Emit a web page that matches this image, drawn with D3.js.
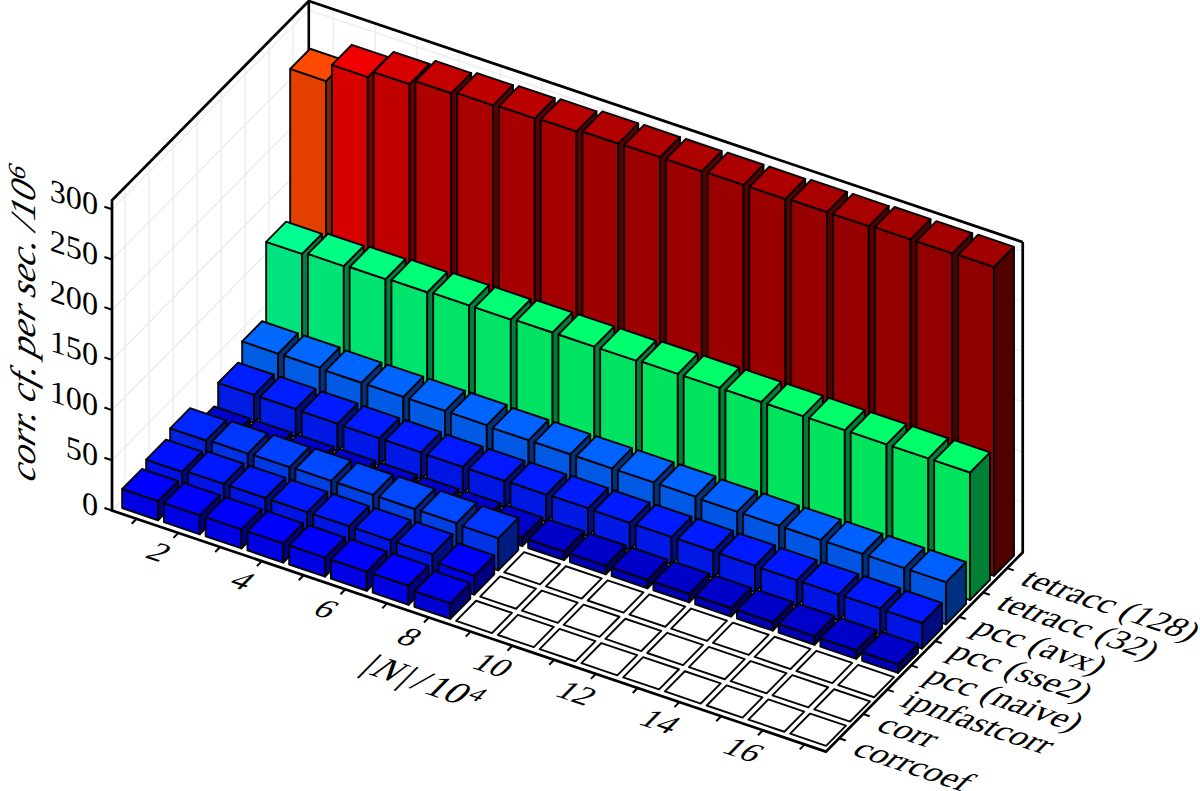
<!DOCTYPE html>
<html>
<head>
<meta charset="utf-8">
<script src="https://cdn.jsdelivr.net/npm/d3@7"></script>
<style>
  html, body { margin: 0; background: #fff; }
  svg { display: block; }
  text { font-family: "Liberation Serif", serif; fill: #000; }
</style>
</head>
<body>
<svg id="chart" width="1200" height="791"></svg>
<script>
const sizes = d3.range(1, 18);
const methods = ["corrcoef", "corr", "ipnfastcorr", "pcc (naive)", "pcc (sse2)", "pcc (avx)", "tetracc (32)", "tetracc (128)"];
const zTicks = [0, 50, 100, 150, 200, 250, 300];
const sizeLabels = [2, 4, 6, 8, 10, 12, 14, 16];

const corrcoefValues = [19, 19, 19, 19, 19, 19, 19, 15.5, null, null, null, null, null, null, null, null, null];
const corrValues = [24, 26, 26, 26, 26, 26, 26, 19, null, null, null, null, null, null, null, null, null];
const ipnfastcorrValues = [31, 32, 32.5, 33, 33, 33, 33, 32, null, null, null, null, null, null, null, null, null];
const pccNaiveValues = [8.5, 8.5, 8.5, 8.5, 8.5, 8.5, 8.5, 8.5, 8.5, 8.5, 8.5, 8.5, 8.5, 8.5, 8.5, 8.5, 8.5];
const pccSse2Values = [28, 28, 27.5, 27, 27, 26.5, 26.5, 27, 27.5, 27, 27, 27, 26.5, 26, 26, 26, 25.5];
const pccAvxValues = [45, 45, 44, 44, 44, 44, 43, 43, 43, 43, 43, 42, 42, 42, 42, 42, 42];
const tetracc32Values = [120, 122, 123, 124, 125, 125, 126, 126, 126, 127, 127, 127, 127, 127, 127, 127, 127];
const tetracc128Values = [268, 286, 293, 298, 300, 301, 302, 304, 304.5, 304.5, 305, 305, 306, 306, 307, 307, 307.5];
const allValues = [corrcoefValues, corrValues, ipnfastcorrValues, pccNaiveValues, pccSse2Values, pccAvxValues, tetracc32Values, tetracc128Values];

const svg = d3.select("#chart");

// the plot is an oblique projection: three scales give the pixel offset along each box edge
const uStepX = 41.75, uStepY = 14.1, vStepX = 24, vStepY = 24.3;
const uMax = 17.1, vMax = 8.2, zMax = 309;
const uX = d3.scaleLinear().domain([0, uMax]).range([0, uMax * uStepX]);
const uY = d3.scaleLinear().domain([0, uMax]).range([0, uMax * uStepY]);
const vX = d3.scaleLinear().domain([0, vMax]).range([0, vMax * vStepX]);
const vY = d3.scaleLinear().domain([0, vMax]).range([0, -vMax * vStepY]);
const zY = d3.scaleLinear().domain([0, zMax]).range([0, -zMax * 1.004]);
const originX = 112, originY = 510.5;

const project = (u, v, z) => [originX + uX(u) + vX(v), originY + uY(u) + vY(v) + zY(z)];
const poly = d3.line();
const closed = pts => poly(pts) + "Z";

// colour follows bar height, blue through green to dark red
const colorScale = d3.scaleLinear()
  .domain([0, 8.5, 19, 26, 31, 33, 45, 120, 127, 268, 286, 293, 298, 301, 305, 307.5])
  .range(["#00007a", "#0000c8", "#0000ff", "#0018ff", "#0026ff", "#0048ff", "#0068ff", "#00ff90", "#00ff68", "#ff4800", "#f00000", "#d80000", "#c40000", "#bb0000", "#ad0000", "#a20000"])
  .clamp(true);
const shade = (c, k) => { const r = d3.rgb(c); return d3.rgb(r.r * k, r.g * k, r.b * k).formatHex(); };

const wallLayer = svg.append("g");
const barLayer = svg.append("g");
const axisLayer = svg.append("g");

// grid on the two back walls
const grid = wallLayer.append("g").attr("fill", "none").attr("stroke", "#ededed").attr("stroke-width", 1.5);
const barOffsetU = 0.14, barWidthU = 0.86, barOffsetV = 0.18, barDepthV = 0.83;
sizes.forEach((n, i) => {
  const u = i + 0.59;
  grid.append("path").attr("d", poly([project(u, vMax, 0), project(u, vMax, zMax)]));
});
methods.forEach((m, j) => {
  const v = j + 0.55;
  grid.append("path").attr("d", poly([project(0, v, 0), project(0, v, zMax)]));
});
zTicks.forEach(z => {
  grid.append("path").attr("d", poly([project(0, 0, z), project(0, vMax, z), project(uMax, vMax, z)]));
});

wallLayer.append("path")
  .attr("d", poly([project(0, vMax, 0), project(0, vMax, zMax)]))
  .attr("fill", "none").attr("stroke", "#000").attr("stroke-width", 2.6);

// back rows first, then left to right, so nearer bars cover farther ones
d3.range(methods.length - 1, -1, -1).forEach(j => {
  sizes.forEach((n, i) => {
    const value = allValues[j][i];
    const u0 = i + barOffsetU, u1 = u0 + barWidthU;
    const v0 = j + barOffsetV, v1 = v0 + barDepthV;
    const g = barLayer.append("g").attr("stroke", "#050505").attr("stroke-width", 1.9).attr("stroke-linejoin", "round");
    if (value === null) {
      g.append("path").attr("fill", "#fff")
        .attr("d", closed([project(u0, v0, 0), project(u1, v0, 0), project(u1, v1, 0), project(u0, v1, 0)]));
      return;
    }
    const c = colorScale(value);
    g.append("path").attr("fill", shade(c, 0.89))
      .attr("d", closed([project(u0, v0, 0), project(u1, v0, 0), project(u1, v0, value), project(u0, v0, value)]));
    g.append("path").attr("fill", shade(c, 0.5))
      .attr("d", closed([project(u1, v0, 0), project(u1, v1, 0), project(u1, v1, value), project(u1, v0, value)]));
    g.append("path").attr("fill", c)
      .attr("d", closed([project(u0, v0, value), project(u1, v0, value), project(u1, v1, value), project(u0, v1, value)]));
  });
});

// box outline
axisLayer.append("path")
  .attr("d", poly([project(uMax, vMax, zMax), project(uMax, vMax, 0), project(uMax, 0, 0), project(0, 0, 0), project(0, 0, zMax), project(0, vMax, zMax), project(uMax, vMax, zMax)]))
  .attr("fill", "none").attr("stroke", "#000").attr("stroke-width", 2.7).attr("stroke-linejoin", "miter");

// unit vectors of the box edges, used to lay text in the wall and floor planes
const uLen = Math.hypot(uStepX, uStepY), vLen = Math.hypot(vStepX, vStepY);
const ax = uStepX / uLen, ay = uStepY / uLen, bx = vStepX / vLen, by = vStepY / vLen;
const textSquash = 0.93;
const floorText = ([x, y]) => `matrix(${ax},${ay},${-bx * textSquash},${by * textSquash},${x},${y})`;
const wallText = (x, y) => `matrix(${ax},${ay},0,${textSquash},${x},${y})`;

const ticks = axisLayer.append("g").attr("fill", "none").attr("stroke", "#000").attr("stroke-width", 2);
sizes.forEach((n, i) => {
  const [x, y] = project(i + 0.59, 0, 0);
  ticks.append("path").attr("d", poly([[x, y], [x - bx * 7, y + by * 7]]));
});
methods.forEach((m, j) => {
  const [x, y] = project(uMax, j + 0.55, 0);
  ticks.append("path").attr("d", poly([[x, y], [x + ax * 7, y + ay * 7]]));
});
zTicks.forEach(z => {
  const [x, y] = project(0, 0, z);
  ticks.append("path").attr("d", poly([[x, y], [x - ax * 8, y - ay * 8]]));
});

// z tick labels sit in the left face plane
axisLayer.selectAll(".zlabel").data(zTicks).join("text")
  .attr("class", "zlabel")
  .attr("transform", d => wallText(98, project(0, 0, d)[1] + 7))
  .attr("text-anchor", "end")
  .style("font-size", "34px")
  .text(d => d);

axisLayer.selectAll(".xlabel").data(sizeLabels).join("text")
  .attr("class", "xlabel")
  .attr("transform", d => floorText(project(d - 1 + 0.59, -0.8, 0)))
  .attr("text-anchor", "middle")
  .attr("dy", "0.33em")
  .style("font-size", "34px")
  .text(d => d);

axisLayer.selectAll(".ylabel").data(methods).join("text")
  .attr("class", "ylabel")
  .attr("transform", (d, j) => floorText(project(uMax + 0.48, j + 0.5, 0)))
  .attr("dy", "0.33em")
  .style("font-size", "35.5px")
  .text(d => d);

// axis titles
const xTitle = axisLayer.append("text")
  .attr("transform", floorText(project(8.64, -2.03, 0)))
  .attr("text-anchor", "middle")
  .attr("dy", "0.33em")
  .style("font-size", "39px");
xTitle.append("tspan").text("|");
xTitle.append("tspan").attr("dx", 2).style("font-style", "italic").text("N");
xTitle.append("tspan").attr("dx", 3).text("|");
xTitle.append("tspan").attr("dx", 5).text("/");
xTitle.append("tspan").attr("dx", 3).text("10");
xTitle.append("tspan").attr("dx", 1).attr("dy", "-0.4em").style("font-size", "26px").text("4");

const zTitle = axisLayer.append("text")
  .attr("transform", `matrix(0,-1,${ax},${ay},35,483)`)
  .style("font-size", "37.5px")
  .style("font-style", "italic");
zTitle.append("tspan").text("corr. cf. per sec. /10");
zTitle.append("tspan").attr("dy", "-0.4em").style("font-size", "26px").text("6");
</script>
</body>
</html>
